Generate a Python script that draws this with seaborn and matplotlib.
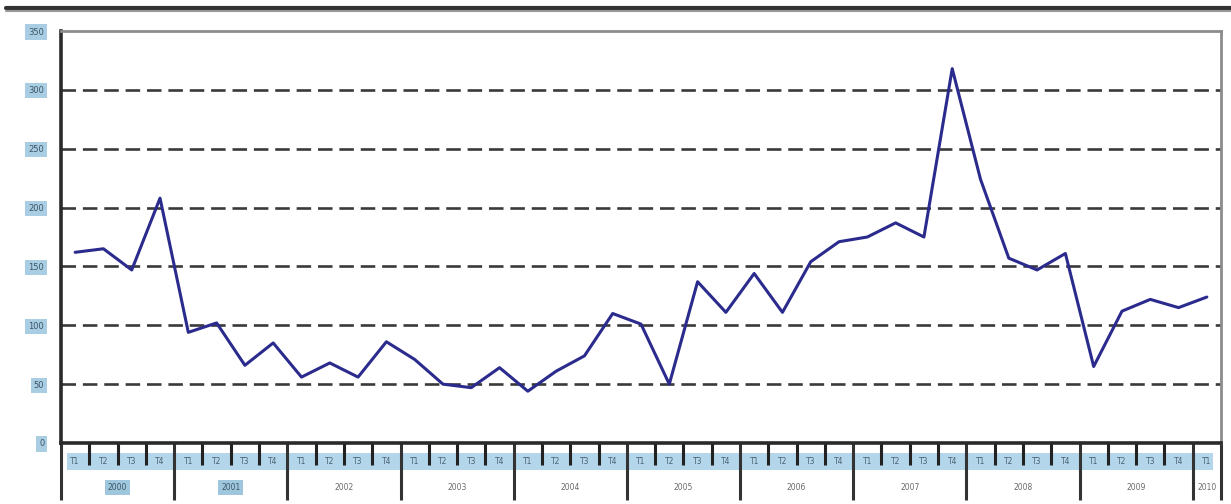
import numpy as np
import pandas as pd
import seaborn as sns
import matplotlib.pyplot as plt
from matplotlib.lines import Line2D
from matplotlib.patches import Rectangle
import matplotlib.transforms as mtransforms

# data (quarterly values 2000 T1 .. 2010 T1)
years = ['2000', '2001', '2002', '2003', '2004', '2005', '2006', '2007', '2008', '2009', '2010']
quarters = ['T1', 'T2', 'T3', 'T4']
values = [162, 165, 147, 208,
          94, 102, 66, 85,
          56, 68, 56, 86,
          71, 50, 47, 64,
          44, 61, 74, 110,
          101, 50, 137, 111,
          144, 111, 154, 171,
          175, 187, 175, 318,
          224, 157, 147, 161,
          65, 112, 122, 115,
          124]
y_ticks = [0, 50, 100, 150, 200, 250, 300, 350]
highlighted_years = ['2000', '2001']

labels = [f'{y} {q}' for y in years for q in quarters][:len(values)]
df = pd.DataFrame({'idx': np.arange(len(values)), 'value': values, 'label': labels})
df['quarter'] = df['label'].str.split(' ').str[1]

sns.set_style('white')
plt.rcParams['font.family'] = ['DejaVu Sans']

fig = plt.figure(figsize=(12.31, 5.04), dpi=100)
ax = fig.add_axes([61 / 1231, 1 - 443 / 504, (1221 - 61) / 1231, (443 - 31) / 504])

# dashed grid lines
for yv in y_ticks[1:-1]:
    ax.axhline(yv, color='#3a3a3a', lw=1.9, dashes=(5.5, 2.6), zorder=1)

sns.lineplot(data=df, x='idx', y='value', color='#2b2b8e', lw=2.2, ax=ax, zorder=3)

n = len(values)
ax.set_xlim(-0.5, n - 0.5)
ax.set_ylim(0, 350)
ax.set_xlabel('')
ax.set_ylabel('')

ax.set_yticks(y_ticks)
ax.set_yticklabels([str(v) for v in y_ticks], fontsize=6, color='#3d5566')
for lbl in ax.get_yticklabels():
    lbl.set_bbox(dict(facecolor='#a9cde3', edgecolor='none', pad=2.2))
ax.tick_params(axis='y', length=0, pad=12)

# quarter and year boundaries as ticks
bounds = np.arange(-0.5, n, 1.0)
major = [b for b in bounds if (b + 0.5) % 4 == 0] + [n - 0.5]
minor = [b for b in bounds if b not in major]
ax.set_xticks(major)
ax.set_xticks(minor, minor=True)
ax.set_xticklabels([])
ax.tick_params(axis='x', which='major', length=41, width=2.2, color='#333333', direction='out')
ax.tick_params(axis='x', which='minor', length=16, width=2.2, color='#222222', direction='out')
ax.tick_params(axis='x', which='both', bottom=True)

for side in ['left', 'bottom']:
    ax.spines[side].set_color('#2a2a2a')
    ax.spines[side].set_linewidth(2.6)
for side in ['top', 'right']:
    ax.spines[side].set_color('#8c8c8c')
    ax.spines[side].set_linewidth(2.0)

trans = mtransforms.blended_transform_factory(ax.transData, ax.transAxes)
# light-blue band behind quarter labels
ax.add_patch(Rectangle((-0.3, -0.066), n - 0.5, 0.042, transform=trans,
                       facecolor='#b3d6ea', edgecolor='none', clip_on=False, zorder=0))
for i, q in enumerate(df['quarter']):
    ax.text(i, -0.045, q, transform=trans, ha='center', va='center',
            fontsize=5.5, color='#4a6272', clip_on=False)

for k, yr in enumerate(years):
    start = 4 * k
    end = min(4 * k + 3, n - 1)
    xc = (start + end) / 2 if end > start else start
    kw = {}
    if yr in highlighted_years:
        kw['bbox'] = dict(facecolor='#9ec6dd', edgecolor='none', pad=2.0)
    ax.text(xc, -0.108, yr, transform=trans, ha='center', va='center',
            fontsize=5.5, color='#6a6a6a' if yr not in highlighted_years else '#3d5566',
            clip_on=False, **kw)

# dark rule at the top of the page
fig.add_artist(Line2D([6 / 1231, 1], [1 - 8 / 504, 1 - 8 / 504], color='#333333', lw=3.0))
fig.add_artist(Line2D([6 / 1231, 1], [1 - 11 / 504, 1 - 11 / 504], color='#999999', lw=1.5))

fig.savefig('out.png', dpi=100)
